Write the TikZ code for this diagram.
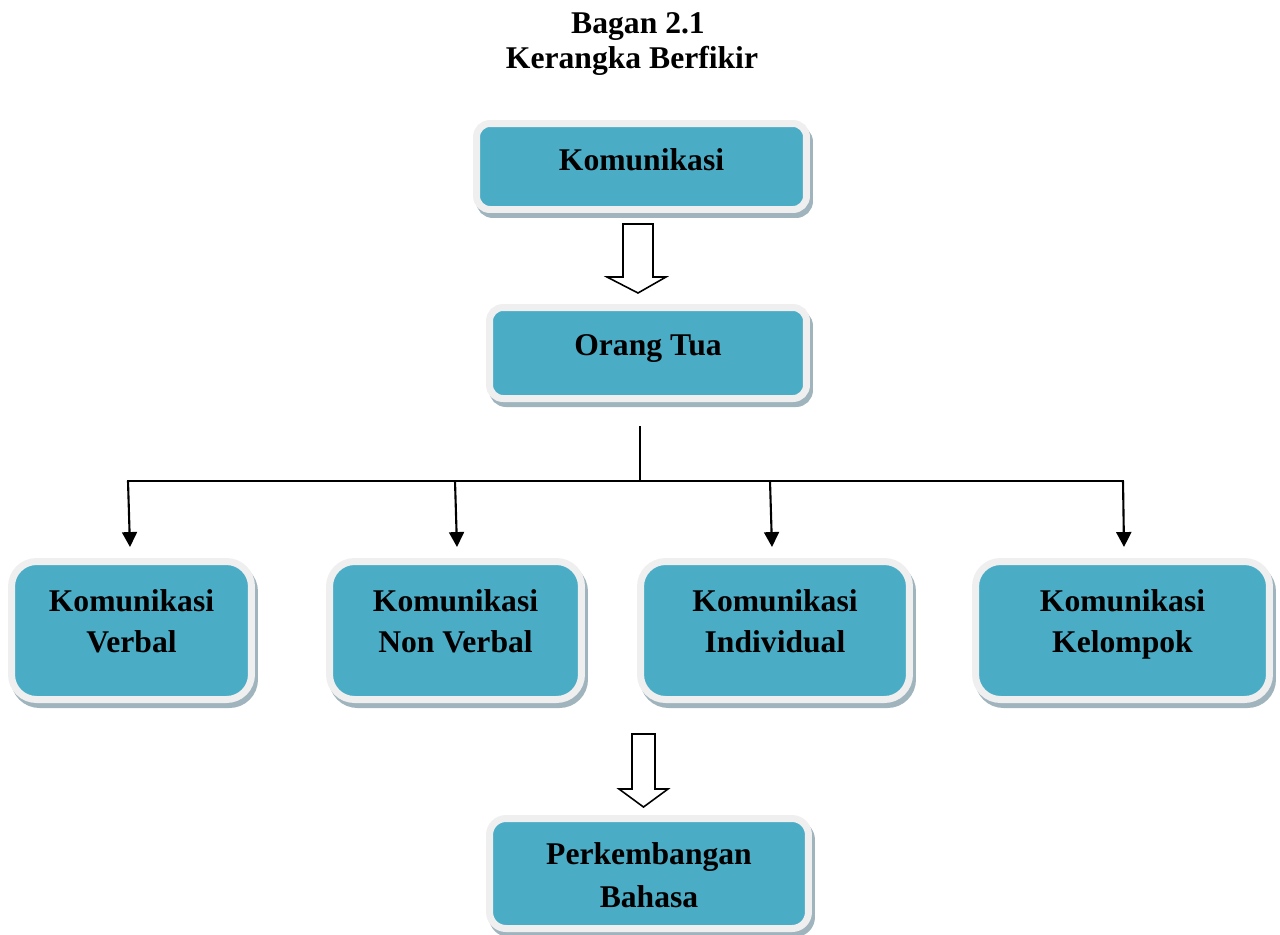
\documentclass[tikz,border=0pt]{standalone}
\usepackage{fontspec}
\setmainfont{Liberation Serif}
\usetikzlibrary{arrows.meta}
\definecolor{tealbox}{HTML}{4BACC6}
\definecolor{framegray}{HTML}{EFEFEF}
\definecolor{shadowc}{HTML}{A0B4BE}
\tikzset{
  box/.style n args={3}{rectangle, inner sep=0pt, minimum width=#1, minimum height=#2,
    rounded corners=#3, fill=tealbox, draw=framegray, line width=0.14cm,
    preaction={fill=shadowc, draw=shadowc, line width=0.14cm,
      transform canvas={shift={(0.06cm,-0.1cm)}}}},
  lbl/.style={anchor=base, inner sep=0pt, font=\fontsize{18}{20}\selectfont\bfseries},
  conn/.style={line width=1.2pt, black},
  arr/.style={conn, -{Triangle[width=8.5pt,length=8.5pt]}},
  hollow/.style={draw=black, fill=white, line width=0.9pt, line join=miter}
}
\begin{document}
\begin{tikzpicture}[x=0.02cm, y=-0.02cm]
\useasboundingbox (0,0) rectangle (1280,934);

% title
\node[lbl] (title1) at (638,33) {Bagan 2.1};
\node[lbl] (title2) at (632,68) {Kerangka Berfikir};

% boxes
\node[box={6.6cm}{1.72cm}{7.65pt}] (kom) at (641.5,166.5) {};
\node[box={6.34cm}{1.82cm}{7.65pt}] (orang) at (648,353) {};
\node[box={4.8cm}{2.76cm}{14.2pt}] (v1) at (131.5,630.5) {};
\node[box={5.04cm}{2.76cm}{14.2pt}] (v2) at (455.5,630.5) {};
\node[box={5.38cm}{2.76cm}{14.2pt}] (v3) at (775,630.5) {};
\node[box={5.88cm}{2.76cm}{14.2pt}] (v4) at (1122.5,630.5) {};
\node[box={6.38cm}{2.2cm}{9.35pt}] (bah) at (649,873.5) {};

% labels
\node[lbl] (lkom) at (641.5,170) {Komunikasi};
\node[lbl] (lorang) at (648,355) {Orang Tua};
\node[lbl] (l1a) at (131.5,611) {Komunikasi};
\node[lbl] (l1b) at (131.5,652) {Verbal};
\node[lbl] (l2a) at (455.5,611) {Komunikasi};
\node[lbl] (l2b) at (455.5,652) {Non Verbal};
\node[lbl] (l3a) at (775,611) {Komunikasi};
\node[lbl] (l3b) at (775,652) {Individual};
\node[lbl] (l4a) at (1122.5,611) {Komunikasi};
\node[lbl] (l4b) at (1122.5,652) {Kelompok};
\node[lbl] (l5a) at (649,864) {Perkembangan};
\node[lbl] (l5b) at (649,907) {Bahasa};

% hollow block arrows
\draw[hollow] (623,224) -- (653,224) -- (653,277) -- (666,277) -- (638,293)
  -- (607,277) -- (623,277) -- cycle;
\draw[hollow] (632,734) -- (655,734) -- (655,789) -- (668,789) -- (643.5,807)
  -- (619,789) -- (632,789) -- cycle;

% tree connectors
\coordinate (jn) at (640,481);
\coordinate (d1) at (128,481);
\coordinate (d2) at (455,481);
\coordinate (d3) at (770,481);
\coordinate (d4) at (1123,481);
\coordinate (e1) at (130,547);
\coordinate (e2) at (457,547);
\coordinate (e3) at (772,547);
\coordinate (e4) at (1124,547);
\draw[conn, shorten <=13.9pt] (orang.south -| jn) -- (jn);
\draw[conn] ([xshift=-0.6pt]d1) -- ([xshift=0.6pt]d4);
\draw[arr] (d1) -- (e1);
\draw[arr] (d2) -- (e2);
\draw[arr] (d3) -- (e3);
\draw[arr] (d4) -- (e4);
\end{tikzpicture}
\end{document}
